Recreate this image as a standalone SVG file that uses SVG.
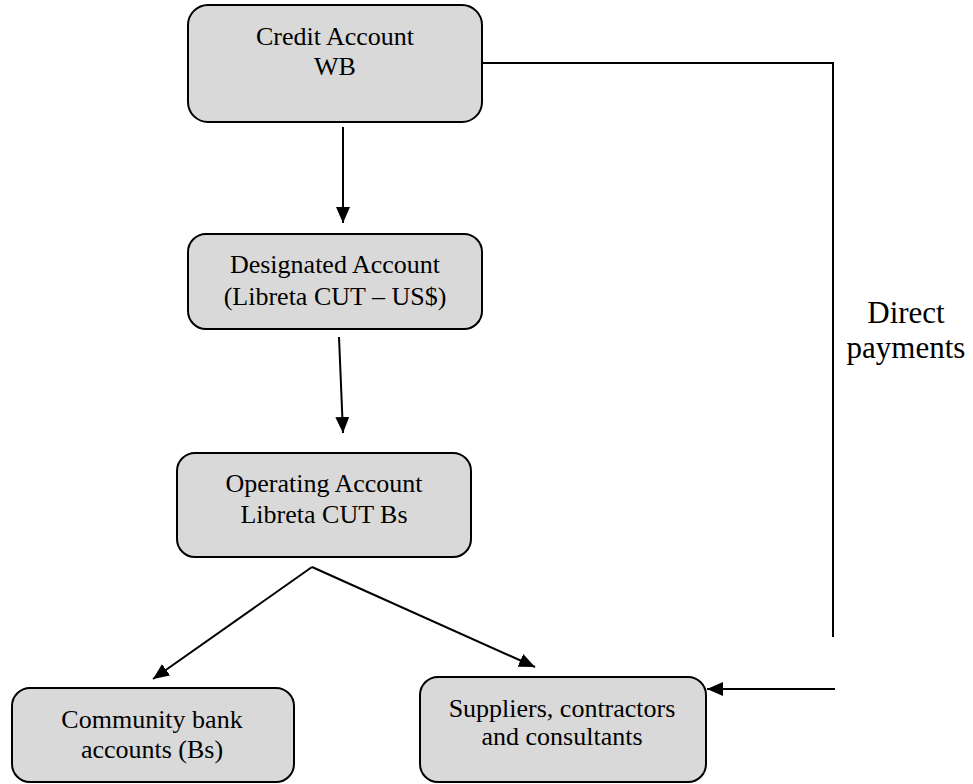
<svg xmlns="http://www.w3.org/2000/svg" width="973" height="784" viewBox="0 0 973 784">
<defs>
<style>
.box{fill:#d9d9d9;stroke:#000;stroke-width:2}
.t{font-family:"Liberation Serif","Times New Roman",serif;font-size:26px;fill:#000;text-anchor:middle}
.lab{font-family:"Liberation Serif","Times New Roman",serif;font-size:31px;fill:#000;text-anchor:middle}
.c{fill:none;stroke:#000;stroke-width:2}
</style>
<marker id="ah" viewBox="0 0 16 14" refX="16" refY="7" markerWidth="16" markerHeight="14" markerUnits="userSpaceOnUse" orient="auto">
<path d="M0,0 L16,7 L0,14 Z" fill="#000"/>
</marker>
</defs>
<rect width="973" height="784" fill="#fff"/>
<g id="connectors">
<polyline class="c" points="482,63 833,63 833,637"/>
<line class="c" x1="343" y1="127" x2="343" y2="223" marker-end="url(#ah)"/>
<line class="c" x1="339" y1="337" x2="343" y2="433" marker-end="url(#ah)"/>
<line class="c" x1="312" y1="567" x2="535" y2="667" marker-end="url(#ah)"/>
<line class="c" x1="312" y1="567" x2="153" y2="679" marker-end="url(#ah)"/>
<line class="c" x1="835" y1="689" x2="707" y2="689" marker-end="url(#ah)"/>
</g>
<g id="credit">
<rect class="box" x="188" y="5" width="294" height="117" rx="20"/>
<text class="t" x="335" y="45">Credit Account</text>
<text class="t" x="335" y="75">WB</text>
</g>
<g id="designated">
<rect class="box" x="188" y="234" width="294" height="95" rx="18"/>
<text class="t" x="335" y="273">Designated Account</text>
<text class="t" x="335" y="305">(Libreta CUT – US$)</text>
</g>
<g id="operating">
<rect class="box" x="177" y="453" width="294" height="104" rx="18"/>
<text class="t" x="324" y="492">Operating Account</text>
<text class="t" x="324" y="523">Libreta CUT Bs</text>
</g>
<g id="community">
<rect class="box" x="12" y="688" width="282" height="94" rx="18"/>
<text class="t" x="152" y="728">Community bank</text>
<text class="t" x="152" y="758">accounts (Bs)</text>
</g>
<g id="suppliers">
<rect class="box" x="420" y="677" width="286" height="105" rx="18"/>
<text class="t" x="562" y="717">Suppliers, contractors</text>
<text class="t" x="562" y="745">and consultants</text>
</g>
<g id="direct-label">
<text class="lab" x="906" y="323">Direct</text>
<text class="lab" x="906" y="358">payments</text>
</g>
</svg>
